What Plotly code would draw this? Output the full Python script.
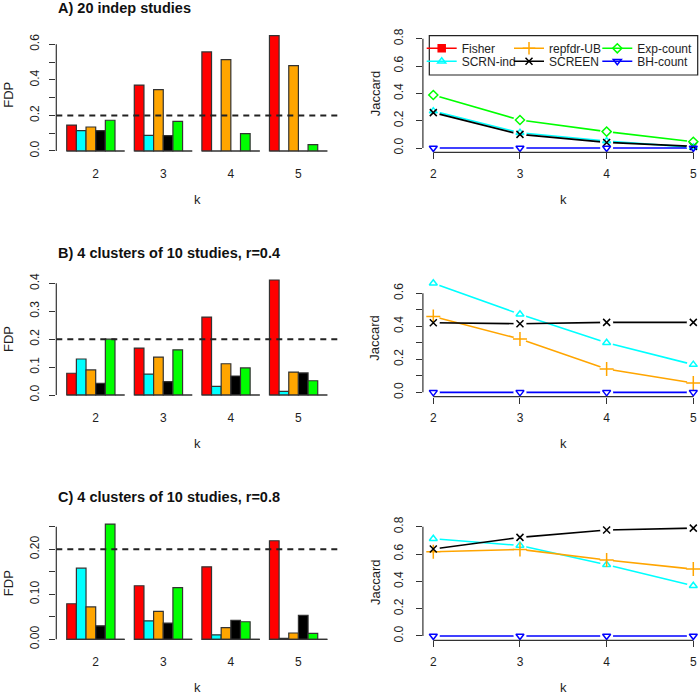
import plotly.graph_objects as go

W, H = 700, 695
FONT = "Liberation Sans, Arial, Helvetica, sans-serif"
TXT = "#1e1e1e"
AX = "#333333"

# ---------------- data ----------------
k_values = [2, 3, 4, 5]
k_labels = ["2", "3", "4", "5"]
methods = ["Fisher", "SCRN-ind", "repfdr-UB", "SCREEN", "Exp-count", "BH-count"]
method_colors = ["#FF0000", "#00FFFF", "#FFA500", "#000000", "#00FF00", "#0000FF"]
method_symbols = ["square", "triangle-up-open", "cross-thin-open", "x-thin-open",
                  "diamond-open", "triangle-down-open"]
panel_titles = ["A) 20 indep studies",
                "B) 4 clusters of 10 studies, r=0.4",
                "C) 4 clusters of 10 studies, r=0.8"]
fdr_level = 0.2

# FDP (bar charts): one list per method, by k
fdp_A_fisher = [0.146, 0.371, 0.557, 0.649]
fdp_A_scrn_ind = [0.114, 0.088, 0.0, 0.0]
fdp_A_repfdr_ub = [0.135, 0.345, 0.514, 0.480]
fdp_A_screen = [0.114, 0.086, 0.0, 0.0]
fdp_A_exp_count = [0.173, 0.167, 0.098, 0.036]
fdp_A_bh_count = [0.0, 0.0, 0.0, 0.0]

fdp_B_fisher = [0.078, 0.168, 0.279, 0.412]
fdp_B_scrn_ind = [0.129, 0.075, 0.031, 0.013]
fdp_B_repfdr_ub = [0.090, 0.136, 0.112, 0.082]
fdp_B_screen = [0.042, 0.048, 0.068, 0.079]
fdp_B_exp_count = [0.200, 0.162, 0.097, 0.051]
fdp_B_bh_count = [0.0, 0.0, 0.0, 0.0]

fdp_C_fisher = [0.079, 0.119, 0.161, 0.219]
fdp_C_scrn_ind = [0.158, 0.041, 0.010, 0.002]
fdp_C_repfdr_ub = [0.072, 0.062, 0.026, 0.014]
fdp_C_screen = [0.030, 0.036, 0.042, 0.053]
fdp_C_exp_count = [0.256, 0.115, 0.039, 0.013]
fdp_C_bh_count = [0.0, 0.0, 0.0, 0.0]

# Jaccard (line charts); None = method not shown
jac_A_fisher = [None, None, None, None]
jac_A_scrn_ind = [0.270, 0.112, 0.051, 0.005]
jac_A_repfdr_ub = [None, None, None, None]
jac_A_screen = [0.259, 0.100, 0.041, 0.012]
jac_A_exp_count = [0.388, 0.205, 0.120, 0.046]
jac_A_bh_count = [0.0, 0.0, 0.0, 0.0]

jac_B_fisher = [None, None, None, None]
jac_B_scrn_ind = [0.661, 0.473, 0.301, 0.168]
jac_B_repfdr_ub = [0.459, 0.323, 0.141, 0.057]
jac_B_screen = [0.422, 0.416, 0.424, 0.424]
jac_B_exp_count = [None, None, None, None]
jac_B_bh_count = [0.0, 0.0, 0.0, 0.0]

jac_C_fisher = [None, None, None, None]
jac_C_scrn_ind = [0.712, 0.663, 0.522, 0.368]
jac_C_repfdr_ub = [0.617, 0.634, 0.556, 0.490]
jac_C_screen = [0.637, 0.722, 0.776, 0.790]
jac_C_exp_count = [None, None, None, None]
jac_C_bh_count = [0.0, 0.0, 0.0, 0.0]

# tick values / labels
fdp_A_ticks = [0.0, 0.1, 0.2, 0.3, 0.4, 0.5, 0.6]
fdp_A_ticktext = ["0.0", "", "0.2", "", "0.4", "", "0.6"]
fdp_B_ticks = [0.0, 0.1, 0.2, 0.3, 0.4]
fdp_B_ticktext = ["0.0", "0.1", "0.2", "0.3", "0.4"]
fdp_C_ticks = [0.0, 0.05, 0.10, 0.15, 0.20, 0.25]
fdp_C_ticktext = ["0.00", "", "0.10", "", "0.20", ""]
jac_A_ticks = [0.0, 0.2, 0.4, 0.6, 0.8]
jac_A_ticktext = ["0.0", "0.2", "0.4", "0.6", "0.8"]
jac_B_ticks = [0.0, 0.1, 0.2, 0.3, 0.4, 0.5, 0.6]
jac_B_ticktext = ["0.0", "", "0.2", "", "0.4", "", "0.6"]
jac_C_ticks = [0.0, 0.2, 0.4, 0.6, 0.8]
jac_C_ticktext = ["0.0", "0.2", "0.4", "0.6", "0.8"]
jac_A_ylim = [0.0, 0.8]

fdp_panels = [
    [fdp_A_fisher, fdp_A_scrn_ind, fdp_A_repfdr_ub, fdp_A_screen, fdp_A_exp_count, fdp_A_bh_count],
    [fdp_B_fisher, fdp_B_scrn_ind, fdp_B_repfdr_ub, fdp_B_screen, fdp_B_exp_count, fdp_B_bh_count],
    [fdp_C_fisher, fdp_C_scrn_ind, fdp_C_repfdr_ub, fdp_C_screen, fdp_C_exp_count, fdp_C_bh_count],
]
jac_panels = [
    [jac_A_fisher, jac_A_scrn_ind, jac_A_repfdr_ub, jac_A_screen, jac_A_exp_count, jac_A_bh_count],
    [jac_B_fisher, jac_B_scrn_ind, jac_B_repfdr_ub, jac_B_screen, jac_B_exp_count, jac_B_bh_count],
    [jac_C_fisher, jac_C_scrn_ind, jac_C_repfdr_ub, jac_C_screen, jac_C_exp_count, jac_C_bh_count],
]
fdp_ticks = [(fdp_A_ticks, fdp_A_ticktext), (fdp_B_ticks, fdp_B_ticktext), (fdp_C_ticks, fdp_C_ticktext)]
jac_ticks = [(jac_A_ticks, jac_A_ticktext), (jac_B_ticks, jac_B_ticktext), (jac_C_ticks, jac_C_ticktext)]

# ---------------- layout geometry (pixels) ----------------
LEFT_X = (56.3, 337.8)
RIGHT_X = (422.9, 703.7)          # plot region runs past the right edge
LEFT_Y = [(31.0, 155.6), (275.4, 399.6), (519.5, 643.9)]
RIGHT_Y = [(34.3, 152.4), (278.9, 396.7), (523.8, 640.3)]
TITLE_Y = [7.5, 253.3, 496.7]
TITLE_X = 56.0


def px(x):
    return x / W


def py(y):
    return 1 - y / H


def padded(lo, hi):
    d = (hi - lo) * 0.04
    return [lo - d, hi + d]


n_m = len(methods)
pitch = n_m + 1
group_left = [1 + pitch * g for g in range(len(k_values))]
group_center = [gl + n_m / 2 for gl in group_left]
bar_xrange = padded(group_left[0], group_left[-1] + n_m)

kx_full = padded(k_values[0], k_values[-1])
right_clip = min(RIGHT_X[1], W)
kx_range = [kx_full[0], kx_full[0] + (right_clip - RIGHT_X[0]) * (kx_full[1] - kx_full[0]) / (RIGHT_X[1] - RIGHT_X[0])]

fig = go.Figure()
layout = dict(
    width=W, height=H, margin=dict(l=0, r=0, t=0, b=0, autoexpand=False),
    paper_bgcolor="white", plot_bgcolor="white",
    barmode="overlay", showlegend=True,
    font=dict(family=FONT, size=12, color=TXT),
)
shapes = []
annotations = []

for p in range(3):
    xa_l = 2 * p + 1
    xa_r = 2 * p + 2
    sx_l = "" if xa_l == 1 else str(xa_l)
    sx_r = str(xa_r)
    # ----- bar chart -----
    vals = fdp_panels[p]
    ymax = max(max(v) for v in vals)
    for j in range(n_m):
        fig.add_trace(go.Bar(
            x=[gl + j + 0.5 for gl in group_left], y=vals[j], width=1,
            marker=dict(color=method_colors[j], line=dict(color=AX, width=1.2)),
            xaxis="x" + sx_l, yaxis="y" + sx_l, showlegend=False, hoverinfo="skip"))
    bx, by = [], []
    for gl in group_left:
        bx += [gl, gl + n_m, None]
        by += [0, 0, None]
    fig.add_trace(go.Scatter(x=bx, y=by, mode="lines", line=dict(color=AX, width=1.2),
                             xaxis="x" + sx_l, yaxis="y" + sx_l, showlegend=False, hoverinfo="skip"))
    tv, tt = fdp_ticks[p]
    layout["xaxis" + sx_l] = dict(
        domain=[px(LEFT_X[0]), px(LEFT_X[1])], range=bar_xrange, anchor="y" + sx_l,
        tickmode="array", tickvals=group_center, ticktext=k_labels, ticks="",
        showline=False, showgrid=False, zeroline=False, ticklabelstandoff=9,
        automargin=False, tickfont=dict(size=12, color=TXT))
    layout["yaxis" + sx_l] = dict(
        domain=[py(LEFT_Y[p][1]), py(LEFT_Y[p][0])], range=padded(0, ymax), anchor="x" + sx_l,
        tickmode="array", tickvals=tv, ticktext=tt, ticks="outside", ticklen=6,
        tickwidth=1, tickcolor=AX, tickangle=-90, showline=False, showgrid=False,
        zeroline=False, ticklabelstandoff=6, automargin=False, tickfont=dict(size=12, color=TXT))
    shapes.append(dict(type="line", xref="x" + sx_l + " domain", yref="y" + sx_l,
                       x0=0, x1=0, y0=tv[0], y1=tv[-1], line=dict(color=AX, width=1.2), layer="above"))
    shapes.append(dict(type="line", xref="x" + sx_l + " domain", yref="y" + sx_l,
                       x0=0, x1=1, y0=fdr_level, y1=fdr_level,
                       line=dict(color="#222222", width=2, dash="6px,5px"), layer="above"))

    # ----- line chart -----
    jv = jac_panels[p]
    if p == 0:
        ylim = jac_A_ylim
    else:
        ylim = [0, max(max(x for x in v if x is not None) for v in jv if any(x is not None for x in v))]
    for j in range(n_m):
        fig.add_trace(go.Scatter(x=k_values, y=jv[j], mode="lines",
                                 line=dict(color=method_colors[j], width=1.6),
                                 xaxis="x" + sx_r, yaxis="y" + sx_r, showlegend=False,
                                 hoverinfo="skip", cliponaxis=False))
    for j in range(n_m):
        fig.add_trace(go.Scatter(x=k_values, y=jv[j], mode="markers",
                                 marker=dict(symbol="circle", color="white", size=13),
                                 xaxis="x" + sx_r, yaxis="y" + sx_r, showlegend=False,
                                 hoverinfo="skip", cliponaxis=False))
    for j in range(n_m):
        sz = 10 if method_symbols[j].startswith("cross") else 7
        fig.add_trace(go.Scatter(x=k_values, y=jv[j], mode="markers",
                                 marker=dict(symbol=method_symbols[j], color=method_colors[j], size=sz,
                                             line=dict(color=method_colors[j], width=1.5)),
                                 xaxis="x" + sx_r, yaxis="y" + sx_r, showlegend=False,
                                 hoverinfo="skip", cliponaxis=False))
    tv, tt = jac_ticks[p]
    layout["xaxis" + sx_r] = dict(
        domain=[px(RIGHT_X[0]), px(right_clip)], range=kx_range, anchor="y" + sx_r,
        tickmode="array", tickvals=k_values, ticktext=k_labels, ticks="outside", ticklen=6,
        tickwidth=1, tickcolor=AX, showline=False, showgrid=False, zeroline=False,
        ticklabelstandoff=4, automargin=False, tickfont=dict(size=12, color=TXT))
    layout["yaxis" + sx_r] = dict(
        domain=[py(RIGHT_Y[p][1]), py(RIGHT_Y[p][0])], range=padded(*ylim), anchor="x" + sx_r,
        tickmode="array", tickvals=tv, ticktext=tt, ticks="outside", ticklen=6,
        tickwidth=1, tickcolor=AX, tickangle=-90, showline=False, showgrid=False,
        zeroline=False, ticklabelstandoff=8, automargin=False, tickfont=dict(size=12, color=TXT))
    shapes.append(dict(type="line", xref="x" + sx_r + " domain", yref="y" + sx_r,
                       x0=0, x1=0, y0=tv[0], y1=tv[-1], line=dict(color=AX, width=1.2), layer="above"))
    shapes.append(dict(type="line", xref="x" + sx_r, yref="y" + sx_r + " domain",
                       x0=k_values[0], x1=k_values[-1], y0=0, y1=0,
                       line=dict(color=AX, width=1.2), layer="above"))

    # ----- text -----
    annotations.append(dict(text="<b>" + panel_titles[p] + "</b>", x=px(TITLE_X), y=py(TITLE_Y[p]),
                            xref="paper", yref="paper", xanchor="left", yanchor="middle",
                            showarrow=False, font=dict(size=14.5, color="#111111")))
    lab_y = (LEFT_Y[p][0] + LEFT_Y[p][1]) / 2
    annotations.append(dict(text="FDP", x=px(8.5), y=py(lab_y + 2), xref="paper", yref="paper",
                            textangle=-90, showarrow=False, xanchor="center", yanchor="middle",
                            font=dict(size=13, color=TXT)))
    rlab_y = (RIGHT_Y[p][0] + RIGHT_Y[p][1]) / 2
    annotations.append(dict(text="Jaccard", x=px(375), y=py(rlab_y), xref="paper", yref="paper",
                            textangle=-90, showarrow=False, xanchor="center", yanchor="middle",
                            font=dict(size=13, color=TXT)))
    kl_y = LEFT_Y[p][1] + 43.5
    annotations.append(dict(text="k", x=px((LEFT_X[0] + LEFT_X[1]) / 2), y=py(kl_y),
                            xref="paper", yref="paper", showarrow=False,
                            xanchor="center", yanchor="middle", font=dict(size=13, color=TXT)))
    annotations.append(dict(text="k", x=px((RIGHT_X[0] + RIGHT_X[1]) / 2), y=py(kl_y),
                            xref="paper", yref="paper", showarrow=False,
                            xanchor="center", yanchor="middle", font=dict(size=13, color=TXT)))

# ----- legend (panel A, right) : 3 columns x 2 rows -----
legend_text_x = [461.7, 549.0, 637.3]
legend_row_y = [48.3, 61.3]
for j in range(n_m):
    col, row = j // 2, j % 2
    name = "legend" if j == 0 else "legend" + str(j + 1)
    sz = 9 if method_symbols[j].startswith("cross") else 7
    fig.add_trace(go.Scatter(x=[None], y=[None], mode="lines+markers", name=methods[j],
                             line=dict(color=method_colors[j], width=1.6),
                             marker=dict(symbol=method_symbols[j], color=method_colors[j], size=sz,
                                         line=dict(color=method_colors[j], width=1.5)),
                             xaxis="x2", yaxis="y2", legend=name, showlegend=True))
    layout[name] = dict(x=px(legend_text_x[col] - 40), y=py(legend_row_y[row]),
                        xanchor="left", yanchor="middle", bgcolor="rgba(0,0,0,0)",
                        borderwidth=0, itemwidth=30, font=dict(size=12, color=TXT),
                        itemclick=False, itemdoubleclick=False)
shapes.append(dict(type="rect", xref="paper", yref="paper",
                   x0=px(429.3), x1=px(697.7), y0=py(75.0), y1=py(35.7),
                   line=dict(color="#222222", width=1.2), layer="above"))

layout["shapes"] = shapes
layout["annotations"] = annotations
fig.update_layout(**layout)
fig.write_html("out.html",
               config={"displayModeBar": False, "responsive": False},
               post_script="document.documentElement.style.margin='0px';"
                           "document.body.style.margin='0px';document.body.style.padding='0px';"
                           "document.body.style.overflow='hidden';")
